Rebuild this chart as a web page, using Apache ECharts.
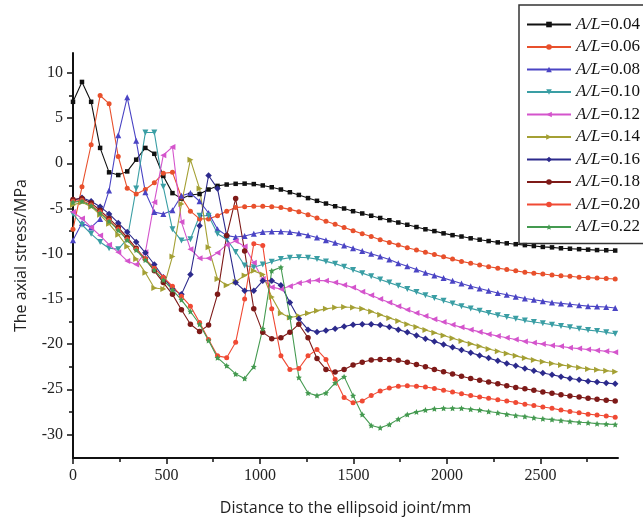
<!DOCTYPE html>
<html>
<head>
<meta charset="utf-8">
<script src="https://cdn.jsdelivr.net/npm/echarts@6/dist/echarts.min.js"></script>
<style>
  html, body { margin: 0; padding: 0; background: #fff; }
  #chart { width: 643px; height: 526px; }
</style>
</head>
<body>
<div id="chart"></div>
<script>
// Distance along the pipe from the ellipsoid joint (mm)
const distance = [0,48,97,145,193,242,290,338,387,435,483,532,580,628,677,725,773,822,870,918,967,1015,1063,1112,1160,1208,1257,1305,1353,1402,1450,1498,1547,1595,1643,1692,1740,1788,1837,1885,1933,1982,2030,2078,2127,2175,2223,2272,2320,2368,2417,2465,2513,2562,2610,2658,2707,2755,2803,2852,2900];

// Axial stress (MPa) for each A/L ratio
const aL004 = [6.8,9.0,6.8,1.7,-1.0,-1.3,-0.9,0.4,1.7,1.05,-1.4,-3.3,-3.9,-3.5,-3.4,-2.9,-2.5,-2.35,-2.27,-2.25,-2.3,-2.45,-2.65,-2.9,-3.2,-3.5,-3.85,-4.15,-4.45,-4.75,-5.0,-5.3,-5.55,-5.8,-6.05,-6.3,-6.55,-6.8,-7.05,-7.3,-7.5,-7.75,-7.95,-8.1,-8.3,-8.45,-8.6,-8.75,-8.85,-8.95,-9.05,-9.15,-9.25,-9.3,-9.4,-9.45,-9.5,-9.55,-9.6,-9.62,-9.65];
const aL006 = [-7.3,-2.6,2.05,7.5,6.6,0.75,-2.75,-3.4,-2.9,-2.15,-1.1,-1.0,-3.75,-5.3,-6.15,-6.15,-5.8,-5.3,-4.9,-4.8,-4.75,-4.75,-4.8,-4.9,-5.1,-5.35,-5.7,-6.05,-6.4,-6.75,-7.1,-7.45,-7.8,-8.1,-8.45,-8.75,-9.05,-9.35,-9.6,-9.85,-10.1,-10.35,-10.6,-10.85,-11.05,-11.25,-11.45,-11.6,-11.75,-11.9,-12.05,-12.15,-12.25,-12.35,-12.45,-12.5,-12.6,-12.65,-12.7,-12.75,-12.8];
const aL008 = [-8.5,-6.6,-7.1,-6.15,-3.0,3.1,7.3,2.5,-3.2,-5.4,-5.6,-5.2,-3.6,-3.3,-4.2,-5.5,-7.3,-8.0,-8.15,-8.05,-7.8,-7.6,-7.55,-7.55,-7.6,-7.75,-7.95,-8.2,-8.5,-8.8,-9.1,-9.4,-9.7,-10.0,-10.3,-10.65,-11.05,-11.4,-11.75,-12.1,-12.4,-12.7,-13.0,-13.3,-13.6,-13.85,-14.1,-14.35,-14.55,-14.75,-14.95,-15.1,-15.25,-15.4,-15.5,-15.6,-15.7,-15.8,-15.85,-15.9,-16.0];
const aL010 = [-5.6,-6.8,-7.8,-8.7,-9.4,-9.5,-8.4,-2.8,3.4,3.4,-2.6,-7.3,-8.55,-8.4,-5.8,-5.8,-7.8,-8.4,-9.8,-11.3,-11.5,-11.2,-10.9,-10.6,-10.45,-10.4,-10.45,-10.6,-10.85,-11.1,-11.45,-11.8,-12.15,-12.5,-12.85,-13.2,-13.55,-13.9,-14.25,-14.6,-14.9,-15.2,-15.5,-15.8,-16.05,-16.3,-16.55,-16.8,-17.0,-17.2,-17.4,-17.55,-17.7,-17.85,-18.0,-18.15,-18.3,-18.45,-18.55,-18.7,-18.85];
const aL012 = [-5.4,-6.1,-7.1,-8.0,-9.0,-9.85,-10.8,-11.2,-9.85,-4.3,0.9,1.8,-6.5,-9.5,-10.5,-10.5,-9.9,-9.0,-8.6,-9.2,-11.0,-12.8,-13.7,-13.9,-13.6,-13.25,-13.05,-12.95,-13.0,-13.2,-13.45,-13.75,-14.2,-14.6,-15.0,-15.4,-15.8,-16.2,-16.55,-16.9,-17.25,-17.55,-17.85,-18.15,-18.4,-18.65,-18.9,-19.1,-19.3,-19.5,-19.7,-19.85,-20.0,-20.15,-20.25,-20.4,-20.5,-20.6,-20.7,-20.8,-20.9];
const aL014 = [-4.6,-4.3,-4.8,-5.7,-6.7,-7.9,-9.2,-10.6,-12.1,-13.8,-13.9,-10.3,-4.5,0.4,-2.8,-9.3,-12.8,-13.5,-13.1,-12.4,-11.9,-12.3,-14.8,-16.6,-17.05,-16.9,-16.6,-16.3,-16.1,-15.95,-15.9,-15.95,-16.1,-16.4,-16.75,-17.1,-17.45,-17.8,-18.1,-18.45,-18.75,-19.05,-19.35,-19.65,-19.95,-20.25,-20.55,-20.8,-21.05,-21.3,-21.55,-21.75,-21.95,-22.15,-22.3,-22.45,-22.6,-22.75,-22.85,-22.95,-23.05];
const aL016 = [-4.1,-3.8,-4.2,-4.8,-5.6,-6.6,-7.6,-8.7,-9.9,-11.2,-12.6,-13.9,-14.5,-12.3,-6.9,-1.35,-2.8,-8.0,-13.2,-14.1,-14.1,-13.0,-13.0,-13.5,-15.4,-17.2,-18.4,-18.65,-18.5,-18.3,-18.05,-17.85,-17.8,-17.8,-17.9,-18.1,-18.4,-18.7,-19.05,-19.4,-19.7,-20.05,-20.35,-20.65,-20.95,-21.25,-21.55,-21.85,-22.15,-22.4,-22.7,-22.95,-23.2,-23.4,-23.6,-23.8,-23.95,-24.1,-24.2,-24.3,-24.4];
const aL018 = [-4.0,-3.9,-4.4,-5.2,-6.1,-7.1,-8.2,-9.4,-10.6,-11.9,-13.2,-14.5,-16.2,-17.8,-18.6,-17.9,-14.5,-8.0,-3.9,-9.7,-16.1,-18.7,-19.4,-19.3,-18.7,-17.8,-19.3,-21.6,-22.8,-23.1,-22.8,-22.3,-22.0,-21.75,-21.7,-21.7,-21.8,-22.0,-22.25,-22.5,-22.8,-23.05,-23.3,-23.55,-23.8,-24.0,-24.2,-24.4,-24.6,-24.8,-24.95,-25.1,-25.3,-25.45,-25.6,-25.75,-25.85,-26.0,-26.1,-26.2,-26.3];
const aL020 = [-4.2,-4.1,-4.6,-5.4,-6.3,-7.3,-8.4,-9.5,-10.6,-11.6,-12.6,-13.6,-14.7,-15.8,-17.6,-19.5,-21.3,-21.5,-19.8,-15.0,-8.9,-9.1,-16.1,-21.3,-22.8,-22.7,-21.3,-20.6,-21.7,-23.9,-25.9,-26.5,-26.3,-25.7,-25.2,-24.85,-24.65,-24.6,-24.65,-24.75,-24.9,-25.1,-25.3,-25.5,-25.7,-25.85,-26.0,-26.15,-26.3,-26.45,-26.65,-26.8,-26.95,-27.1,-27.3,-27.45,-27.6,-27.75,-27.85,-27.95,-28.1];
const aL022 = [-4.3,-4.2,-4.7,-5.5,-6.4,-7.4,-8.5,-9.6,-10.7,-11.8,-12.9,-14.0,-15.1,-16.4,-17.8,-19.6,-21.5,-22.4,-23.3,-23.8,-22.5,-18.3,-11.9,-11.5,-17.0,-23.7,-25.4,-25.7,-25.4,-24.3,-23.6,-25.7,-27.8,-29.0,-29.25,-28.9,-28.3,-27.8,-27.5,-27.3,-27.15,-27.1,-27.1,-27.1,-27.2,-27.3,-27.45,-27.6,-27.75,-27.9,-28.0,-28.15,-28.25,-28.35,-28.45,-28.55,-28.65,-28.7,-28.8,-28.85,-28.9];

const seriesNames = ['A/L=0.04','A/L=0.06','A/L=0.08','A/L=0.10','A/L=0.12','A/L=0.14','A/L=0.16','A/L=0.18','A/L=0.20','A/L=0.22'];
const seriesValues = [aL004, aL006, aL008, aL010, aL012, aL014, aL016, aL018, aL020, aL022];

// Axis ticks
const yMajorTicks = [-30,-25,-20,-15,-10,-5,0,5,10];
const yMinorTicks = [-27.5,-22.5,-17.5,-12.5,-7.5,-2.5,2.5,7.5];
const xMajorTicks = [0,500,1000,1500,2000,2500];
const xMinorTicks = [250,750,1250,1750,2250,2750];

const colors = ['#111111','#e8502c','#4a44c4','#3a9ea4','#d454cc','#a4a034','#2c2a8c','#7e1a18','#f04a34','#449a50'];
const star = 'path://M0,-10L2.9,-4L9.5,-3.1L4.7,1.5L5.9,8.1L0,5L-5.9,8.1L-4.7,1.5L-9.5,-3.1L-2.9,-4Z';
const markers = [
  {symbol: 'rect', size: 4.5, rotate: 0},
  {symbol: 'circle', size: 5, rotate: 0},
  {symbol: 'triangle', size: 6, rotate: 0},
  {symbol: 'triangle', size: 6, rotate: 180},
  {symbol: 'triangle', size: 6, rotate: 90},
  {symbol: 'triangle', size: 6, rotate: -90},
  {symbol: 'diamond', size: 6.5, rotate: 0},
  {symbol: 'circle', size: 5.5, rotate: 0},
  {symbol: 'circle', size: 5, rotate: 0},
  {symbol: star, size: 6, rotate: 0}
];

const serif = 'Liberation Serif';
const sans = 'Open Sans';
const plain = v => String(v);

const series = seriesNames.map((name, k) => ({
  name: name,
  type: 'line',
  xAxisIndex: 0,
  yAxisIndex: 0,
  data: distance.map((d, i) => [d, seriesValues[k][i]]),
  symbol: markers[k].symbol,
  symbolSize: markers[k].size,
  symbolRotate: markers[k].rotate,
  showSymbol: true,
  color: colors[k],
  lineStyle: {width: 1.1, color: colors[k]},
  itemStyle: {color: colors[k]},
  emphasis: {disabled: true}
}));

const chart = echarts.init(document.getElementById('chart'), null, {renderer: 'canvas'});
chart.setOption({
  animation: false,
  backgroundColor: '#ffffff',
  grid: {left: 73, right: 25, top: 53, bottom: 68, containLabel: false},
  legend: {
    show: true,
    orient: 'vertical',
    left: 519,
    top: 5,
    padding: [11, 30, 8, 7],
    borderColor: '#333333',
    borderWidth: 1.5,
    itemWidth: 44,
    itemHeight: 7,
    itemGap: 5.5,
    data: seriesNames,
    formatter: name => '{i|A/L}' + name.slice(3),
    textStyle: {
      fontFamily: serif,
      fontSize: 17,
      lineHeight: 17,
      color: '#111',
      rich: {i: {fontFamily: serif, fontSize: 17, fontStyle: 'italic', color: '#111'}}
    }
  },
  xAxis: [
    {
      type: 'value',
      min: 0,
      max: 2915,
      interval: 500,
      position: 'bottom',
      name: 'Distance to the ellipsoid joint/mm',
      nameLocation: 'middle',
      nameGap: 42,
      nameTextStyle: {fontFamily: sans, fontSize: 16, color: '#222'},
      axisLine: {show: true, onZero: false, lineStyle: {color: '#111', width: 2}},
      axisTick: {show: true, inside: false, length: 6, lineStyle: {width: 1.5, color: '#111'}, customValues: xMajorTicks},
      axisLabel: {fontFamily: serif, fontSize: 16, color: '#222', margin: 10, customValues: xMajorTicks, formatter: plain},
      splitLine: {show: false}
    },
    {
      type: 'value',
      min: 0,
      max: 2915,
      position: 'bottom',
      axisLine: {show: false, onZero: false},
      axisTick: {show: true, inside: false, length: 4, lineStyle: {width: 1.5, color: '#111'}, customValues: xMinorTicks},
      axisLabel: {show: false},
      splitLine: {show: false}
    }
  ],
  yAxis: [
    {
      type: 'value',
      min: -32.6,
      max: 12.2,
      position: 'left',
      name: 'The axial stress/MPa',
      nameLocation: 'middle',
      nameGap: 44,
      nameTextStyle: {fontFamily: sans, fontSize: 16, color: '#222'},
      axisLine: {show: true, onZero: false, lineStyle: {color: '#111', width: 2}},
      axisTick: {show: true, inside: false, length: 6, lineStyle: {width: 1.5, color: '#111'}, customValues: yMajorTicks},
      axisLabel: {fontFamily: serif, fontSize: 16, color: '#222', margin: 10, customValues: yMajorTicks, formatter: plain},
      splitLine: {show: false}
    },
    {
      type: 'value',
      min: -32.6,
      max: 12.2,
      position: 'left',
      axisLine: {show: false, onZero: false},
      axisTick: {show: true, inside: false, length: 4, lineStyle: {width: 1.5, color: '#111'}, customValues: yMinorTicks},
      axisLabel: {show: false},
      splitLine: {show: false}
    }
  ],
  series: series
});
</script>
</body>
</html>
